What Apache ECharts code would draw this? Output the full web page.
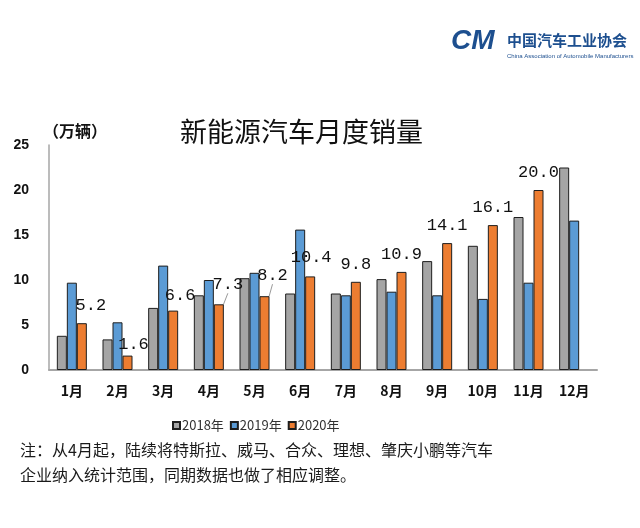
<!DOCTYPE html>
<html>
<head>
<meta charset="utf-8">
<script src="https://cdn.jsdelivr.net/npm/echarts@6/dist/echarts.min.js"></script>
<style>
html,body{margin:0;padding:0;background:#fff;}
#c{width:640px;height:528px;}
</style>
</head>
<body>
<div id="c"></div>
<script>
const months = ['1月','2月','3月','4月','5月','6月','7月','8月','9月','10月','11月','12月'];
const seriesNames = ['2018年','2019年','2020年'];
const sales2018 = [3.8, 3.4, 6.9, 8.3, 10.2, 8.5, 8.5, 10.1, 12.1, 13.8, 17.0, 22.5];
const sales2019 = [9.7, 5.3, 11.6, 10.0, 10.8, 15.6, 8.3, 8.7, 8.3, 7.9, 9.7, 16.6];
const sales2020 = [5.2, 1.6, 6.6, 7.3, 8.2, 10.4, 9.8, 10.9, 14.1, 16.1, 20.0, null];
const yTicks = [0, 5, 10, 15, 20, 25];

// label nudges (style only)
const labelNudge = [[9,0],[6,6],[7,2],[9,-2],[8,-3],[1,-1],[0,0],[0,0],[0,0],[0,0],[0,0],[0,0]];
const guideLineIdx = [3, 4];

const chart = echarts.init(document.getElementById('c'), null, {renderer:'canvas'});
const border = {borderColor:'#1e1e1e', borderWidth:1};
const cjk = '"Noto Sans CJK SC", "Noto Sans", sans-serif';

chart.setOption({
  backgroundColor:'#fff',
  animation:false,
  grid:{left:49, right:43, top:145, bottom:158},
  legend:{
    data:seriesNames,
    left:167, top:414,
    itemWidth:7, itemHeight:7, itemGap:6,
    icon:'rect',
    textStyle:{fontFamily:cjk, fontSize:13, color:'#333', padding:[0,0,0,-3]}
  },
  xAxis:{
    type:'category', data:months,
    axisLine:{lineStyle:{color:'#a6a6a6', width:2}},
    axisTick:{show:false},
    axisLabel:{fontFamily:cjk, fontWeight:'bold', fontSize:14, color:'#111', margin:14}
  },
  yAxis:{
    type:'value', min:yTicks[0], max:yTicks[yTicks.length-1], interval:5,
    axisLine:{show:true, lineStyle:{color:'#a6a6a6', width:1.5}},
    axisTick:{show:false},
    splitLine:{show:false},
    axisLabel:{fontFamily:'"Liberation Sans", Arial, sans-serif', fontWeight:'bold', fontSize:14, color:'#111', margin:20}
  },
  series:[
    {name:seriesNames[0], type:'bar', data:sales2018, barWidth:10, barGap:'0%',
     itemStyle:Object.assign({color:'#a5a5a5'}, border)},
    {name:seriesNames[1], type:'bar', data:sales2019, barWidth:10, barGap:'0%',
     itemStyle:Object.assign({color:'#5b9bd5'}, border)},
    {name:seriesNames[2], type:'bar', barWidth:10, barGap:'0%',
     itemStyle:Object.assign({color:'#ed7d31'}, border),
     data:sales2020.map((v,i)=>({value:v, labelLine:{show:guideLineIdx.includes(i), lineStyle:{color:'#999', width:1}}})),
     label:{show:true, position:'top', distance:9,
       fontFamily:'"Liberation Mono", "DejaVu Sans Mono", monospace', fontSize:17, color:'#111',
       formatter:p=> p.value==null ? '' : Number(p.value).toFixed(1)},
     labelLayout:function(p){ const o = labelNudge[p.dataIndex] || [0,0]; return {dx:o[0], dy:o[1]}; }
    }
  ],
  graphic:[
    {type:'text', left:180, top:118, style:{text:'新能源汽车月度销量', fontFamily:cjk, fontSize:27, fill:'#111'}, z:10},
    {type:'text', left:43, top:123, style:{text:'（万辆）', fontFamily:cjk, fontSize:16, fontWeight:'bold', fill:'#111'}},
    {type:'text', left:20, top:442, style:{text:'注：从4月起，陆续将特斯拉、威马、合众、理想、肇庆小鹏等汽车', fontFamily:cjk, fontSize:16, fill:'#1a1a1a'}},
    {type:'text', left:20, top:467, style:{text:'企业纳入统计范围，同期数据也做了相应调整。', fontFamily:cjk, fontSize:16, fill:'#1a1a1a'}},
    {type:'text', left:451, top:27, style:{text:'CM', fontFamily:'"Liberation Sans", Arial, sans-serif', fontStyle:'italic', fontWeight:'bold', fontSize:28, fill:'#1d4f8f'}},
    {type:'text', left:507, top:33, style:{text:'中国汽车工业协会', fontFamily:cjk, fontWeight:'bold', fontSize:15, fill:'#1d4f8f'}},
    {type:'text', left:507, top:53, style:{text:'China Association of Automobile Manufacturers', fontFamily:'"Liberation Sans", Arial, sans-serif', fontSize:6, fill:'#1d4f8f'}}
  ]
});
</script>
</body>
</html>
